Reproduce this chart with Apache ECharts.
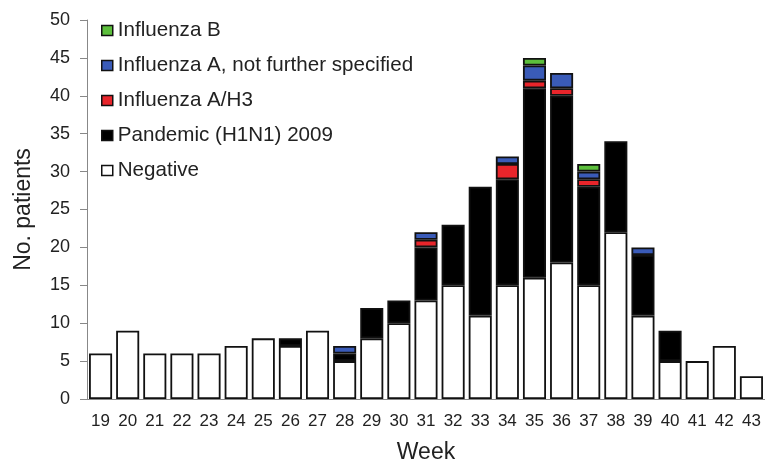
<!DOCTYPE html>
<html><head><meta charset="utf-8">
<script src="https://cdn.jsdelivr.net/npm/echarts@6/dist/echarts.min.js"></script>
<style>html,body{margin:0;padding:0;background:#fff}#c{width:765px;height:463px}</style>
</head><body><div id="c"></div>
<script>
const weeks = ['19','20','21','22','23','24','25','26','27','28','29','30','31','32','33','34','35','36','37','38','39','40','41','42','43'];
const negative = [6,9,6,6,6,7,8,7,9,5,8,10,13,15,11,15,16,18,15,22,11,5,5,7,3];
const h1n1 =     [0,0,0,0,0,0,0,1,0,1,4,3,7,8,17,14,25,22,13,12,8,4,0,0,0];
const h3 =       [0,0,0,0,0,0,0,0,0,0,0,0,1,0,0,2,1,1,1,0,0,0,0,0,0];
const aNfs =     [0,0,0,0,0,0,0,0,0,1,0,0,1,0,0,1,2,2,1,0,1,0,0,0,0];
const fluB =     [0,0,0,0,0,0,0,0,0,0,0,0,0,0,0,0,1,0,1,0,0,0,0,0,0];
const yTicks = [0,5,10,15,20,25,30,35,40,45,50];

const font = 'Liberation Sans, Arial, sans-serif';
const border = {borderColor:'#111', borderWidth:1.8};
function mk(name, data, color){
  return {name, type:'bar', stack:'s', data: data.map(v => v === 0 ? '-' : v),
    barCategoryGap:'15%', itemStyle:Object.assign({color}, border)};
}
const chart = echarts.init(document.getElementById('c'), null, {renderer:'canvas'});
chart.setOption({
  animation:false,
  textStyle:{fontFamily:font},
  grid:{left:87, right:0, top:20, bottom:64, containLabel:false, outerBoundsMode:'none'},
  legend:{
    orient:'vertical', left:101, top:20, padding:0, itemWidth:11, itemHeight:10, itemGap:14,
    icon:'rect',
    itemStyle:{borderColor:'#111', borderWidth:1.5},
    textStyle:{fontFamily:font, fontSize:20.6, color:'#222', lineHeight:21},
    data:['Influenza B','Influenza A, not further specified','Influenza A/H3','Pandemic (H1N1) 2009','Negative']
  },
  xAxis:{
    type:'category', data:weeks, name:'Week', nameLocation:'middle', nameGap:42,
    nameTextStyle:{fontFamily:font, fontSize:23, color:'#222'},
    axisLine:{show:true, lineStyle:{color:'#888', width:1}},
    axisTick:{show:false},
    axisLabel:{fontFamily:font, fontSize:17, color:'#222', margin:14, interval:0}
  },
  yAxis:{
    type:'value', min:yTicks[0], max:yTicks[yTicks.length-1], interval:5,
    name:'No. patients', nameLocation:'middle', nameGap:52, nameRotate:90,
    nameTextStyle:{fontFamily:font, fontSize:23, color:'#222'},
    axisLine:{show:true, lineStyle:{color:'#888', width:1}},
    axisTick:{show:true, length:7, lineStyle:{color:'#888'}},
    splitLine:{show:false},
    axisLabel:{fontFamily:font, fontSize:18, color:'#222', margin:17}
  },
  series:[
    mk('Negative', negative, '#ffffff'),
    mk('Pandemic (H1N1) 2009', h1n1, '#000000'),
    mk('Influenza A/H3', h3, '#e8252b'),
    mk('Influenza A, not further specified', aNfs, '#3a5bb8'),
    mk('Influenza B', fluB, '#5cbf3c')
  ]
});
</script></body></html>
